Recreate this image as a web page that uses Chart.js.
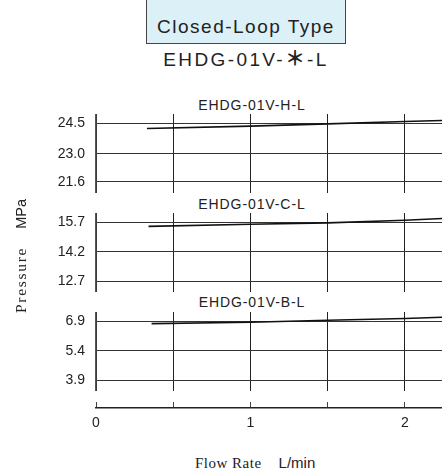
<!DOCTYPE html>
<html>
<head>
<meta charset="utf-8">
<script src="https://cdn.jsdelivr.net/npm/chart.js@4.4.1/dist/chart.umd.min.js"></script>
<style>
  body { margin: 0; width: 442px; height: 476px; overflow: hidden; background: #fff; position: relative;
         font-family: 'Liberation Sans', Arial, sans-serif; color: #222; }
  canvas { position: absolute; left: 0; }
  .box { position: absolute; left: 146px; top: -1px; width: 198px; height: 43px; background: #dcf0f8;
         border: 1px solid #444; }
  .txt { position: absolute; white-space: nowrap; text-align: center; }
  .main { font-size: 19px; line-height: 19px; letter-spacing: 1.5px; left: 96px; width: 300px; }
  .sub { letter-spacing: 2.4px; }
  .star { font-family: 'Noto Sans CJK JP', sans-serif; font-weight: 700; font-size: 20px; letter-spacing: 2px; }
  .panel { font-size: 14px; line-height: 14px; letter-spacing: 0.9px; left: 152px; width: 200px; }
  .serif { font-family: 'Liberation Serif', 'Times New Roman', serif; }
  .ytitle { left: -49px; top: 247px; width: 140px; height: 18px; line-height: 18px; font-size: 15.5px;
            transform: rotate(-90deg); }
  .xtitle { left: 195px; top: 454px; line-height: 18px; font-size: 15px; text-align: left; }
</style>
</head>
<body>
<div class="box"></div>
<div class="txt main" style="top:17px">Closed-Loop Type</div>
<div class="txt main sub" style="top:48px">EHDG-01V-<span class="star">＊</span>-L</div>

<div class="txt panel" style="top:98px">EHDG-01V-H-L</div>
<div class="txt panel" style="top:197px">EHDG-01V-C-L</div>
<div class="txt panel" style="top:295px">EHDG-01V-B-L</div>

<canvas id="chartH" width="442" height="79" style="top:114px"></canvas>
<canvas id="chartC" width="442" height="79" style="top:213px"></canvas>
<canvas id="chartB" width="442" height="79" style="top:312px"></canvas>
<canvas id="chartAxis" width="442" height="42" style="top:396px"></canvas>

<div class="txt ytitle"><span class="serif" style="letter-spacing:1.7px">Pressure</span><span style="margin-left:18px;font-size:14.5px">MPa</span></div>
<div class="txt xtitle"><span class="serif" style="letter-spacing:0.5px">Flow Rate</span><span style="margin-left:17px">L/min</span></div>

<script>
// flow rate axis (L/min)
const flowTicks = [0, 0.5, 1, 1.5, 2];
const flowMax = 2.24;

// EHDG-01V-H-L
const hFlow = [0.33, 1.0, 1.5, 2.0, 2.24];
const hPressure = [24.25, 24.37, 24.48, 24.6, 24.65];
const hTicks = [21.6, 23.0, 24.5];

// EHDG-01V-C-L
const cFlow = [0.34, 1.0, 1.5, 2.0, 2.24];
const cPressure = [15.49, 15.6, 15.67, 15.8, 15.89];
const cTicks = [12.7, 14.2, 15.7];

// EHDG-01V-B-L
const bFlow = [0.36, 1.0, 1.5, 2.0, 2.24];
const bPressure = [6.78, 6.85, 6.95, 7.04, 7.1];
const bTicks = [3.9, 5.4, 6.9];

const sans = "'Liberation Sans', Arial, sans-serif";

function makePanel(id, flow, pressure, ticks) {
  const points = flow.map((x, i) => ({ x: x, y: pressure[i] }));
  return new Chart(document.getElementById(id), {
    type: 'line',
    data: {
      datasets: [{
        data: points,
        borderColor: '#111',
        borderWidth: 1.6,
        pointRadius: 0,
        tension: 0,
        clip: false
      }]
    },
    options: {
      responsive: false,
      animation: false,
      events: [],
      layout: { padding: 0 },
      plugins: { legend: { display: false }, tooltip: { enabled: false } },
      scales: {
        x: {
          type: 'linear',
          min: 0,
          max: flowMax,
          afterBuildTicks: s => { s.ticks = flowTicks.map(v => ({ value: v })); },
          afterFit: s => { s.height = 0; s.paddingLeft = 0; s.paddingRight = 0; },
          ticks: { display: false },
          grid: { color: '#222', lineWidth: 1, drawTicks: false },
          border: { display: false }
        },
        y: {
          min: ticks[0] - 0.55,
          max: ticks[ticks.length - 1] + 0.47,
          afterBuildTicks: s => { s.ticks = ticks.map(v => ({ value: v })); },
          afterFit: s => { s.width = 96; s.paddingTop = 0; s.paddingBottom = 0; },
          grid: { color: '#333', lineWidth: 1, drawTicks: false },
          border: { color: '#555', width: 1.5 },
          ticks: {
            padding: 11,
            color: '#222',
            font: { family: sans, size: 14 },
            callback: v => v.toFixed(1)
          }
        }
      }
    }
  });
}

makePanel('chartH', hFlow, hPressure, hTicks);
makePanel('chartC', cFlow, cPressure, cTicks);
makePanel('chartB', bFlow, bPressure, bTicks);

// shared flow rate axis at the bottom
new Chart(document.getElementById('chartAxis'), {
  type: 'line',
  data: { datasets: [{ data: [] }] },
  options: {
    responsive: false,
    animation: false,
    events: [],
    layout: { padding: { top: 6 } },
    plugins: { legend: { display: false }, tooltip: { enabled: false } },
    scales: {
      x: {
        type: 'linear',
        min: 0,
        max: flowMax,
        afterBuildTicks: s => { s.ticks = flowTicks.map(v => ({ value: v })); },
        afterFit: s => { s.height = 30; s.paddingLeft = 0; s.paddingRight = 0; },
        grid: { color: '#444', lineWidth: 1, drawTicks: false },
        border: { color: '#222', width: 1.5 },
        ticks: {
          padding: 7,
          color: '#222',
          font: { family: sans, size: 14 },
          callback: v => (Number.isInteger(v) ? String(v) : '')
        }
      },
      y: {
        min: 0,
        max: 1,
        afterFit: s => { s.width = 96; s.paddingTop = 0; s.paddingBottom = 0; },
        ticks: { display: false },
        grid: { display: false },
        border: { display: false }
      }
    }
  }
});
</script>
</body>
</html>
